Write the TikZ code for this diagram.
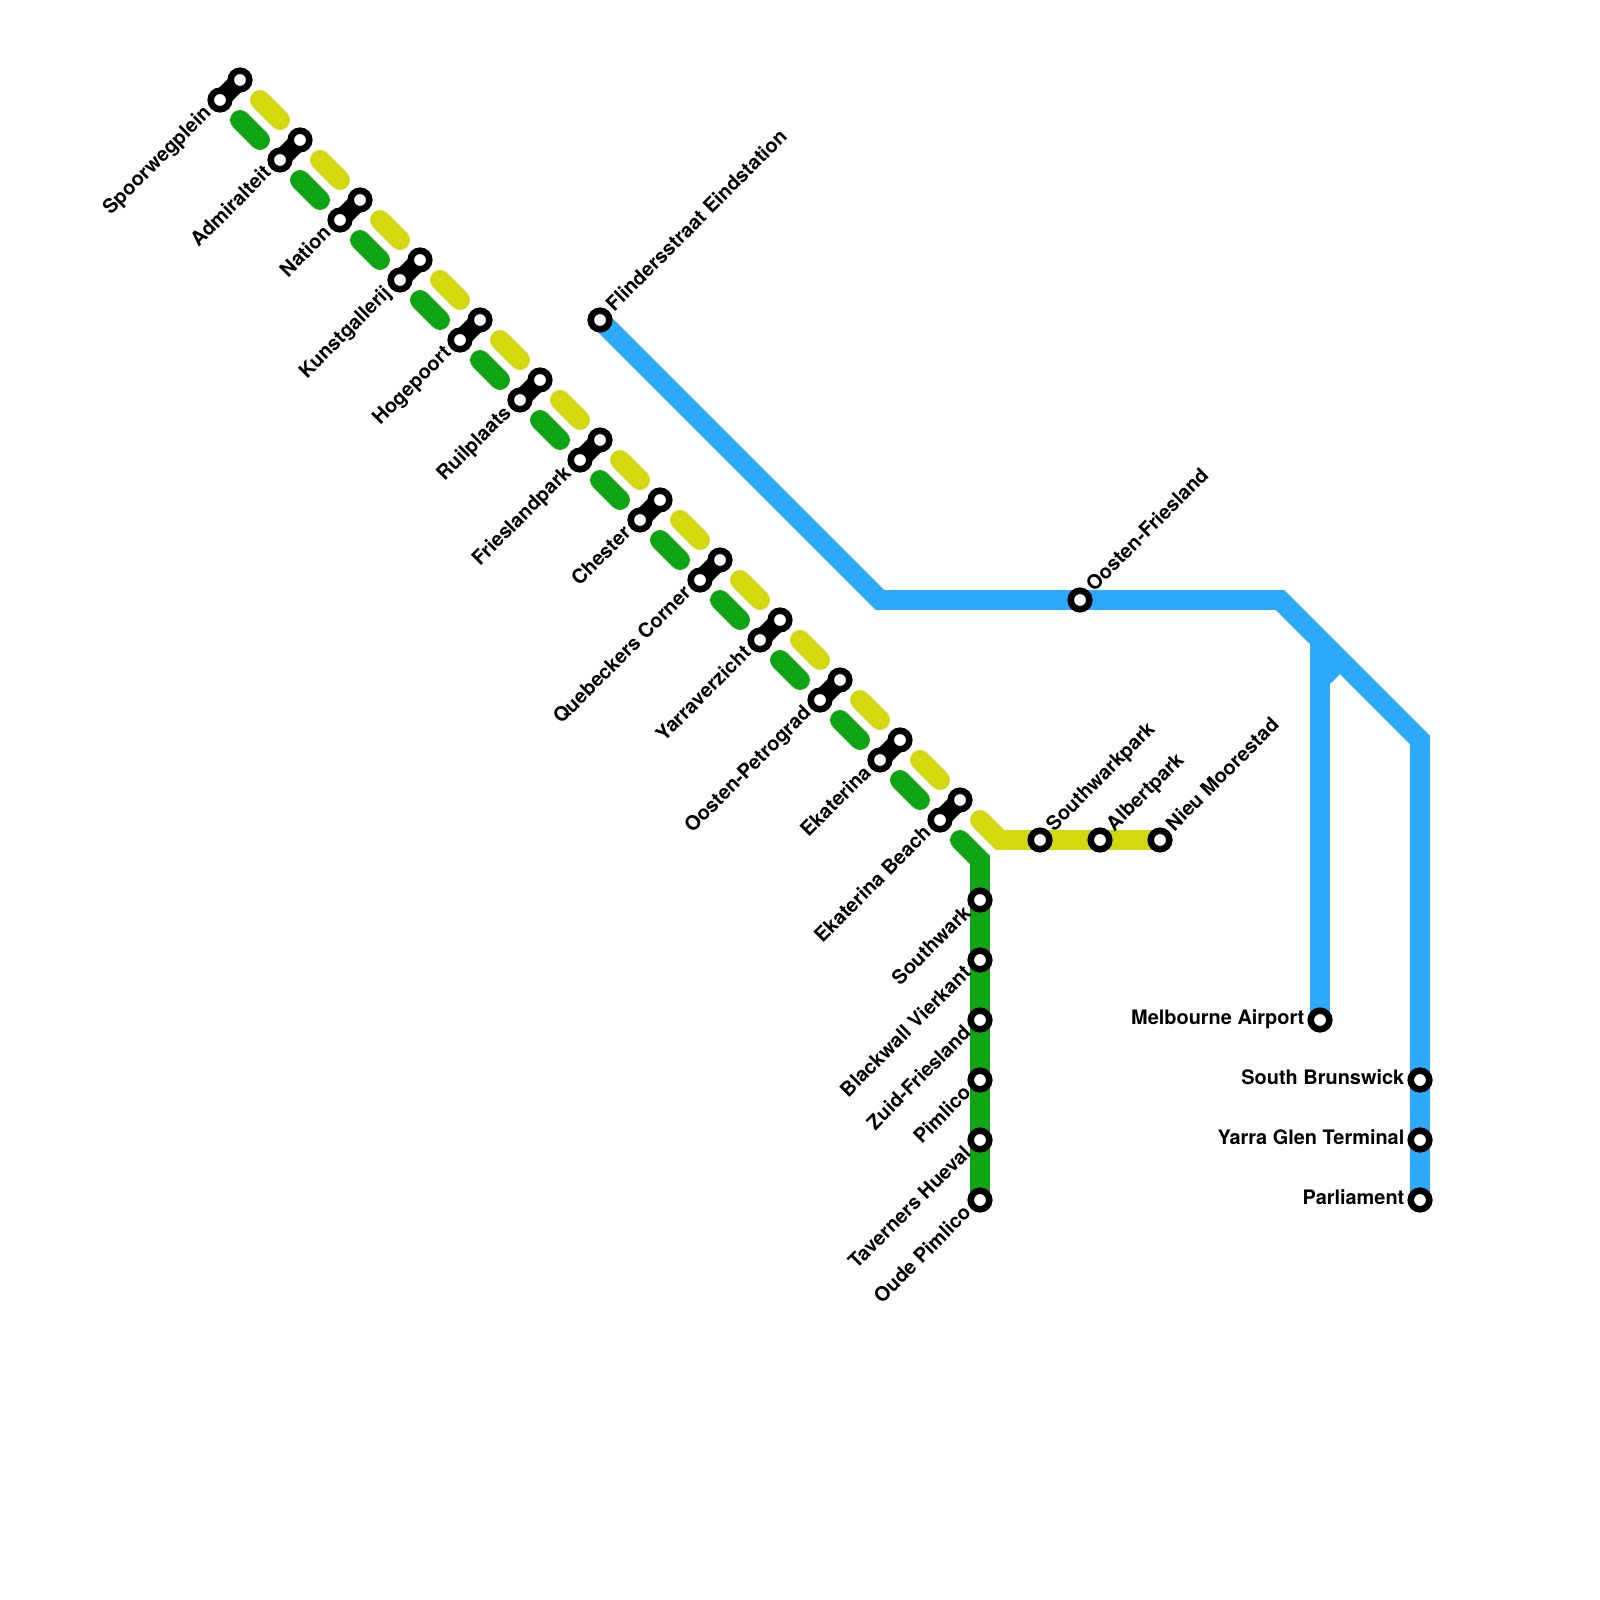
\documentclass[tikz,border=0pt]{standalone}
\usepackage{fontspec}
\setmainfont{TeX Gyre Heros}
\usepackage{xcolor}
\usetikzlibrary{calc,backgrounds}
\definecolor{LineYel}{HTML}{D4D80F}
\definecolor{LineGrn}{HTML}{10A515}
\definecolor{LineBlu}{HTML}{2DA9F9}
\begin{document}
\begin{tikzpicture}[
  font=\fontsize{5.67pt}{6.5pt}\selectfont\bfseries,
  stn/.style={circle,draw=black,line width=1.85pt,fill=white,inner sep=0pt,outer sep=0pt,minimum size=5.3pt},
  trk/.style={line width=5.67pt,line join=miter},
  yel/.style={trk,LineYel,line cap=round},
  grn/.style={trk,LineGrn,line cap=round},
  blu/.style={trk,LineBlu},
  lnk/.style={line width=5.3pt,black},
  sw/.style={rotate=45,anchor=base east,inner sep=0pt,shift={(-.15,-.045)}},
  ne/.style={rotate=45,anchor=base west,inner sep=0pt,shift={(.15,-.045)}},
  wl/.style={anchor=base east,inner sep=0pt,shift={(-.15,-.045)}},
]
\useasboundingbox (0,0) rectangle (16,-16);

% Stations on the shared diagonal come in pairs, one on each side.
\node[stn] (spoorA) at (2.2,-1.0) {};   \node[stn] (spoorB) at (2.4,-0.8) {};
\node[stn] (admirA) at (2.8,-1.6) {};   \node[stn] (admirB) at (3.0,-1.4) {};
\node[stn] (natioA) at (3.4,-2.2) {};   \node[stn] (natioB) at (3.6,-2.0) {};
\node[stn] (kunstA) at (4.0,-2.8) {};   \node[stn] (kunstB) at (4.2,-2.6) {};
\node[stn] (hogepA) at (4.6,-3.4) {};   \node[stn] (hogepB) at (4.8,-3.2) {};
\node[stn] (ruilpA) at (5.2,-4.0) {};   \node[stn] (ruilpB) at (5.4,-3.8) {};
\node[stn] (frparkA) at (5.8,-4.6) {};  \node[stn] (frparkB) at (6.0,-4.4) {};
\node[stn] (chestA) at (6.4,-5.2) {};   \node[stn] (chestB) at (6.6,-5.0) {};
\node[stn] (quebeA) at (7.0,-5.8) {};   \node[stn] (quebeB) at (7.2,-5.6) {};
\node[stn] (yarraA) at (7.6,-6.4) {};   \node[stn] (yarraB) at (7.8,-6.2) {};
\node[stn] (opetrA) at (8.2,-7.0) {};   \node[stn] (opetrB) at (8.4,-6.8) {};
\node[stn] (ekatA)  at (8.8,-7.6) {};   \node[stn] (ekatB)  at (9.0,-7.4) {};
\node[stn] (ebeaA)  at (9.4,-8.2) {};   \node[stn] (ebeaB)  at (9.6,-8.0) {};

\node[sw] (spoorT) at (spoorA) {Spoorwegplein};
\node[sw] (admirT) at (admirA) {Admiralteit};
\node[sw] (natioT) at (natioA) {Nation};
\node[sw] (kunstT) at (kunstA) {Kunstgallerij};
\node[sw] (hogepT) at (hogepA) {Hogepoort};
\node[sw] (ruilpT) at (ruilpA) {Ruilplaats};
\node[sw] (frparkT) at (frparkA) {Frieslandpark};
\node[sw] (chestT) at (chestA) {Chester};
\node[sw] (quebeT) at (quebeA) {Quebeckers Corner};
\node[sw] (yarraT) at (yarraA) {Yarraverzicht};
\node[sw] (opetrT) at (opetrA) {Oosten-Petrograd};
\node[sw] (ekatT)  at (ekatA)  {Ekaterina};
\node[sw] (ebeaT)  at (ebeaA)  {Ekaterina Beach};

% Yellow branch
\node[stn] (swpark) at (10.4,-8.4) {};
\node[stn] (albert) at (11.0,-8.4) {};
\node[stn] (nieu)   at (11.6,-8.4) {};
\node[ne] (swparkT) at (swpark) {Southwarkpark};
\node[ne] (albertT) at (albert) {Albertpark};
\node[ne] (nieuT)   at (nieu)   {Nieu Moorestad};

% Green branch
\node[stn] (swark)  at (9.8,-9.0)  {};
\node[stn] (vierk)  at (9.8,-9.6)  {};
\node[stn] (zuid)   at (9.8,-10.2) {};
\node[stn] (piml)   at (9.8,-10.8) {};
\node[stn] (hueval) at (9.8,-11.4) {};
\node[stn] (oude)   at (9.8,-12.0) {};
\node[sw] (swarkT)  at (swark)  {Southwark};
\node[sw] (vierkT)  at (vierk)  {Blackwall Vierkant};
\node[sw] (zuidT)   at (zuid)   {Zuid-Friesland};
\node[sw] (pimlT)   at (piml)   {Pimlico};
\node[sw] (huevalT) at (hueval) {Taverners Hueval};
\node[sw] (oudeT)   at (oude)   {Oude Pimlico};

% Blue line and its airport branch
\node[stn] (flind)  at (6.0,-3.2)  {};
\node[stn] (ofries) at (10.8,-6.0) {};
\node[stn] (airp)   at (13.2,-10.2) {};
\node[stn] (sbruns) at (14.2,-10.8) {};
\node[stn] (yglen)  at (14.2,-11.4) {};
\node[stn] (parl)   at (14.2,-12.0) {};
\node[ne] (flindT)  at (flind)  {Flindersstraat Eindstation};
\node[ne] (ofriesT) at (ofries) {Oosten-Friesland};
\node[wl] (airpT)   at (airp)   {Melbourne Airport};
\node[wl] (sbrunsT) at (sbruns) {South Brunswick};
\node[wl] (yglenT)  at (yglen)  {Yarra Glen Terminal};
\node[wl] (parlT)   at (parl)   {Parliament};

\coordinate (bl1) at (8.8,-6.0);
\coordinate (bl2) at (12.8,-6.0);
\coordinate (bl3) at (14.2,-7.4);
\coordinate (br0) at (13.2,-6.4);
\coordinate (br1) at (13.2,-6.8);
\coordinate (br2) at (13.4,-6.6);

\begin{scope}[on background layer]
\draw[blu] (flind.center) -- (bl1) -- (bl2) -- (bl3) -- (parl.center);
\draw[blu] (airp.center) -- (br0);
\draw[blu] (br1) -- (br2);

% Links between paired stations
\draw[lnk] (spoorA.center) -- (spoorB.center);
\draw[lnk] (admirA.center) -- (admirB.center);
\draw[lnk] (natioA.center) -- (natioB.center);
\draw[lnk] (kunstA.center) -- (kunstB.center);
\draw[lnk] (hogepA.center) -- (hogepB.center);
\draw[lnk] (ruilpA.center) -- (ruilpB.center);
\draw[lnk] (frparkA.center) -- (frparkB.center);
\draw[lnk] (chestA.center) -- (chestB.center);
\draw[lnk] (quebeA.center) -- (quebeB.center);
\draw[lnk] (yarraA.center) -- (yarraB.center);
\draw[lnk] (opetrA.center) -- (opetrB.center);
\draw[lnk] (ekatA.center) -- (ekatB.center);
\draw[lnk] (ebeaA.center) -- (ebeaB.center);

% Dashes between the pairs
\draw[yel] ($(spoorB)+(.2,-.2)$) -- ($(spoorB)+(.4,-.4)$);
\draw[yel] ($(admirB)+(.2,-.2)$) -- ($(admirB)+(.4,-.4)$);
\draw[yel] ($(natioB)+(.2,-.2)$) -- ($(natioB)+(.4,-.4)$);
\draw[yel] ($(kunstB)+(.2,-.2)$) -- ($(kunstB)+(.4,-.4)$);
\draw[yel] ($(hogepB)+(.2,-.2)$) -- ($(hogepB)+(.4,-.4)$);
\draw[yel] ($(ruilpB)+(.2,-.2)$) -- ($(ruilpB)+(.4,-.4)$);
\draw[yel] ($(frparkB)+(.2,-.2)$) -- ($(frparkB)+(.4,-.4)$);
\draw[yel] ($(chestB)+(.2,-.2)$) -- ($(chestB)+(.4,-.4)$);
\draw[yel] ($(quebeB)+(.2,-.2)$) -- ($(quebeB)+(.4,-.4)$);
\draw[yel] ($(yarraB)+(.2,-.2)$) -- ($(yarraB)+(.4,-.4)$);
\draw[yel] ($(opetrB)+(.2,-.2)$) -- ($(opetrB)+(.4,-.4)$);
\draw[yel] ($(ekatB)+(.2,-.2)$) -- ($(ekatB)+(.4,-.4)$);
\draw[yel] ($(ebeaB)+(.2,-.2)$) -- ($(ebeaB)+(.4,-.4)$) -- (nieu.center);

\draw[grn] ($(spoorA)+(.2,-.2)$) -- ($(spoorA)+(.4,-.4)$);
\draw[grn] ($(admirA)+(.2,-.2)$) -- ($(admirA)+(.4,-.4)$);
\draw[grn] ($(natioA)+(.2,-.2)$) -- ($(natioA)+(.4,-.4)$);
\draw[grn] ($(kunstA)+(.2,-.2)$) -- ($(kunstA)+(.4,-.4)$);
\draw[grn] ($(hogepA)+(.2,-.2)$) -- ($(hogepA)+(.4,-.4)$);
\draw[grn] ($(ruilpA)+(.2,-.2)$) -- ($(ruilpA)+(.4,-.4)$);
\draw[grn] ($(frparkA)+(.2,-.2)$) -- ($(frparkA)+(.4,-.4)$);
\draw[grn] ($(chestA)+(.2,-.2)$) -- ($(chestA)+(.4,-.4)$);
\draw[grn] ($(quebeA)+(.2,-.2)$) -- ($(quebeA)+(.4,-.4)$);
\draw[grn] ($(yarraA)+(.2,-.2)$) -- ($(yarraA)+(.4,-.4)$);
\draw[grn] ($(opetrA)+(.2,-.2)$) -- ($(opetrA)+(.4,-.4)$);
\draw[grn] ($(ekatA)+(.2,-.2)$) -- ($(ekatA)+(.4,-.4)$);
\draw[grn] ($(ebeaA)+(.2,-.2)$) -- ($(ebeaA)+(.4,-.4)$) -- (oude.center);
\end{scope}
\end{tikzpicture}
\end{document}
